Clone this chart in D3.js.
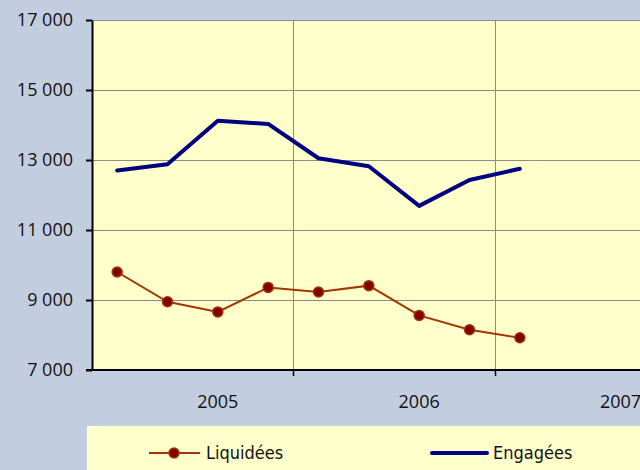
<!DOCTYPE html>
<html>
<head>
<meta charset="utf-8">
<script src="https://cdn.jsdelivr.net/npm/d3@7"></script>
<style>
  html, body { margin: 0; padding: 0; background: #c3cde0; }
  svg { display: block; }
</style>
</head>
<body>
<svg id="chart" width="640" height="470"></svg>
<script>
// quarters, with a year label on the middle ones
const quarters = ["T3 04", "T4 04", "T1 05", "T2 05", "T3 05", "T4 05", "T1 06", "T2 06", "T3 06", "T4 06", "T1 07", "T2 07"];
const quarterLabels = ["", "", "2005", "", "", "", "2006", "", "", "", "2007", ""];
const liquidees = [9800, 8950, 8660, 9360, 9230, 9410, 8560, 8150, 7920];
const engagees = [12700, 12880, 14120, 14030, 13050, 12820, 11690, 12430, 12750];
const yTicks = [7000, 9000, 11000, 13000, 15000, 17000];

const width = 640, height = 470;
const margin = {top: 20, right: -56, bottom: 100, left: 92};
const svg = d3.select("#chart");

const x = d3.scaleBand()
    .domain(quarters)
    .range([margin.left, width - margin.right]);

const y = d3.scaleLinear()
    .domain([7000, 17000])
    .range([height - margin.bottom, margin.top]);

const fmt = d => d3.format(",")(d).replace(/,/g, " ");
const font = "'Open Sans', 'Liberation Sans', sans-serif";

// plot area
svg.append("rect")
    .attr("x", margin.left)
    .attr("y", margin.top)
    .attr("width", x.range()[1] - margin.left)
    .attr("height", y(7000) - y(17000))
    .attr("fill", "#ffffcc");

// horizontal grid
svg.append("g")
  .selectAll("line")
  .data(yTicks.slice(1))
  .join("line")
    .attr("x1", margin.left)
    .attr("x2", x.range()[1])
    .attr("y1", d => Math.round(y(d)) + 0.5)
    .attr("y2", d => Math.round(y(d)) + 0.5)
    .attr("stroke", "#8c8c8c")
    .attr("stroke-width", 1);

// vertical grid every 4 quarters
const yearEdges = quarters.filter((q, i) => i > 0 && i % 4 === 0);
svg.append("g")
  .selectAll("line")
  .data(yearEdges)
  .join("line")
    .attr("x1", d => Math.round(x(d)) + 0.5)
    .attr("x2", d => Math.round(x(d)) + 0.5)
    .attr("y1", y(17000))
    .attr("y2", y(7000))
    .attr("stroke", "#8c8c8c")
    .attr("stroke-width", 1);

// bottom tick marks in black
svg.append("g")
  .selectAll("line")
  .data(yearEdges)
  .join("line")
    .attr("x1", d => Math.round(x(d)) + 0.5)
    .attr("x2", d => Math.round(x(d)) + 0.5)
    .attr("y1", y(7000))
    .attr("y2", y(7000) + 6)
    .attr("stroke", "#000")
    .attr("stroke-width", 1.5);

// y axis
const yAxis = svg.append("g")
    .attr("transform", `translate(${margin.left},0)`)
    .call(d3.axisLeft(y).tickValues(yTicks).tickFormat(fmt).tickSize(6).tickSizeOuter(0).tickPadding(13));
yAxis.select(".domain").attr("stroke", "#000").attr("stroke-width", 2);
yAxis.selectAll(".tick line").attr("stroke", "#000").attr("stroke-width", 2);
yAxis.selectAll("text")
    .attr("fill", "#111")
    .style("font-family", font)
    .style("font-size", "18px");

// x axis baseline
svg.append("line")
    .attr("x1", margin.left - 6)
    .attr("x2", x.range()[1])
    .attr("y1", y(7000))
    .attr("y2", y(7000))
    .attr("stroke", "#000")
    .attr("stroke-width", 2);

// year labels
svg.append("g")
  .selectAll("text")
  .data(quarters.filter((q, i) => quarterLabels[i]))
  .join("text")
    .attr("x", d => x(d) + x.bandwidth() / 2)
    .attr("y", y(7000) + 38)
    .attr("text-anchor", "middle")
    .attr("fill", "#111")
    .style("font-family", font)
    .style("font-size", "18px")
    .text(d => quarterLabels[quarters.indexOf(d)]);

const cx = (d, i) => x(quarters[i]) + x.bandwidth() / 2;

// Engagées
svg.append("path")
    .datum(engagees)
    .attr("fill", "none")
    .attr("stroke", "#000080")
    .attr("stroke-width", 4)
    .attr("stroke-linejoin", "round")
    .attr("stroke-linecap", "round")
    .attr("d", d3.line().x(cx).y(d => y(d)));

// Liquidées
svg.append("path")
    .datum(liquidees)
    .attr("fill", "none")
    .attr("stroke", "#a33500")
    .attr("stroke-width", 2)
    .attr("d", d3.line().x(cx).y(d => y(d)));

svg.append("g")
  .selectAll("circle")
  .data(liquidees)
  .join("circle")
    .attr("cx", cx)
    .attr("cy", d => y(d))
    .attr("r", 5)
    .attr("fill", "#800000")
    .attr("stroke", "#a33500")
    .attr("stroke-width", 1.5);

// legend
const legend = svg.append("g");
legend.append("rect")
    .attr("x", 87)
    .attr("y", 426)
    .attr("width", width - 87)
    .attr("height", height - 426)
    .attr("fill", "#ffffcc");
legend.append("line")
    .attr("x1", 87.5).attr("x2", 87.5)
    .attr("y1", 426).attr("y2", height)
    .attr("stroke", "#fff");

const legendFont = "'DejaVu Sans Condensed', 'Liberation Sans Narrow', sans-serif";
const li = legend.append("g").attr("transform", "translate(149,453)");
li.append("line").attr("x1", 0).attr("x2", 51).attr("stroke", "#a33500").attr("stroke-width", 2);
li.append("circle").attr("cx", 25).attr("r", 5).attr("fill", "#800000").attr("stroke", "#a33500").attr("stroke-width", 1.5);
li.append("text").attr("x", 57).attr("y", 6).attr("fill", "#111")
    .style("font-family", legendFont).style("font-size", "18px").text("Liquidées");

const en = legend.append("g").attr("transform", "translate(432,453)");
en.append("line").attr("x1", 0).attr("x2", 55).attr("stroke", "#000080").attr("stroke-width", 4).attr("stroke-linecap", "round");
en.append("text").attr("x", 61).attr("y", 6).attr("fill", "#111")
    .style("font-family", legendFont).style("font-size", "18px").text("Engagées");
</script>
</body>
</html>
